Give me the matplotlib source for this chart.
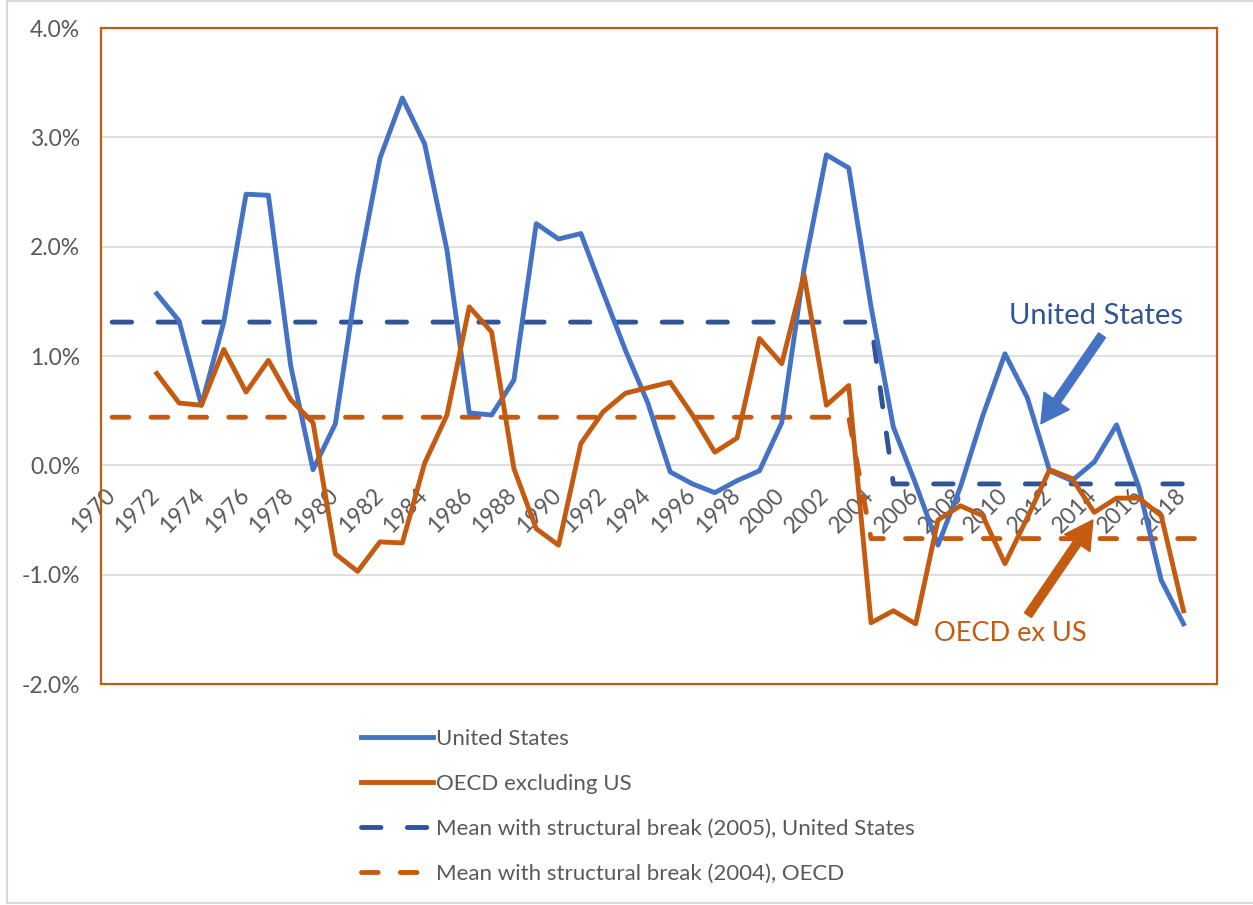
import numpy as np
import matplotlib
matplotlib.use("Agg")
import matplotlib.pyplot as plt
from matplotlib.lines import Line2D

plt.rcParams['font.family'] = ['Lato', 'DejaVu Sans']
plt.rcParams['lines.scale_dashes'] = False

# data (percent)
years = list(range(1972, 2019))
us = [1.57, 1.32, 0.55, 1.31, 2.48, 2.47, 0.91, -0.04, 0.38, 1.74,
      2.81, 3.36, 2.94, 1.97, 0.48, 0.46, 0.78, 2.21, 2.07, 2.12,
      1.58, 1.05, 0.57, -0.06, -0.17, -0.25, -0.14, -0.05, 0.39, 1.8,
      2.84, 2.72, 1.45, 0.35, -0.17, -0.73, -0.2, 0.45, 1.02, 0.62,
      -0.05, -0.14, 0.03, 0.37, -0.2, -1.05, -1.45]
oecd = [0.84, 0.57, 0.55, 1.06, 0.67, 0.96, 0.60, 0.39, -0.81, -0.97,
        -0.70, -0.71, 0.02, 0.46, 1.45, 1.22, -0.03, -0.58, -0.73, 0.20,
        0.49, 0.66, 0.71, 0.76, 0.46, 0.12, 0.25, 1.16, 0.93, 1.74,
        0.55, 0.73, -1.44, -1.33, -1.45, -0.50, -0.37, -0.46, -0.90, -0.48,
        -0.04, -0.12, -0.43, -0.30, -0.30, -0.46, -1.33]

mean_years = list(range(1970, 2020))
us_mean = [1.31 if y <= 2004 else -0.17 for y in mean_years]
oecd_mean = [0.44 if y <= 2003 else -0.67 for y in mean_years]

tick_years = list(range(1970, 2019, 2))
yticks = [-2, -1, 0, 1, 2, 3, 4]

blue = '#4472C4'
orange = '#C55A11'
dblue = '#2F5597'
grey = '#595959'

fig = plt.figure(figsize=(12.53, 9.05), dpi=100)
ax = fig.add_axes([101/1253, 1-684/905, 1116/1253, 656/905])

lw = 3.5
l1, = ax.plot(years, us, color=blue, lw=lw, solid_joinstyle='round', zorder=4,
              label='United States')
l2, = ax.plot(years, oecd, color=orange, lw=lw, solid_joinstyle='round', zorder=4,
              label='OECD excluding US')
l3, = ax.plot(mean_years, us_mean, color=dblue, lw=lw, dashes=(14, 19),
              dash_capstyle='round', zorder=3,
              label='Mean with structural break (2005), United States')
l4, = ax.plot(mean_years, oecd_mean, color=orange, lw=lw, dashes=(12, 16),
              dash_capstyle='round', zorder=3,
              label='Mean with structural break (2004), OECD')

ax.set_xlim(1969.5, 2019.5)
ax.set_ylim(-2, 4)
ax.set_yticks(yticks)
ax.set_yticklabels(['%.1f%%' % v for v in yticks], color=grey, fontsize=16.5)
ax.tick_params(axis='y', length=0, pad=15)
ax.set_xticks([])
ax.grid(axis='y', color='#D9D9D9', lw=1.2)
ax.set_axisbelow(True)
for s in ax.spines.values():
    s.set_color(orange)
    s.set_linewidth(1.6)

# category labels sit at the zero line
for yr in tick_years:
    ax.annotate(str(yr), (yr, 0), xytext=(5, -14), textcoords='offset points',
                rotation=45, ha='right', va='top', color=grey, fontsize=16.5,
                zorder=2)

# call-outs
ax.annotate('', xy=(2011.61, 0.38), xytext=(2014.35, 1.19),
            arrowprops=dict(width=6, headwidth=22, headlength=20, color=blue,
                            shrink=0), zorder=5)
ax.text(2014.08, 1.37, 'United States', color=dblue, fontsize=21,
        ha='center', va='center')
ax.annotate('', xy=(2013.94, -0.50), xytext=(2011.03, -1.37),
            arrowprops=dict(width=6, headwidth=22, headlength=20, color=orange,
                            shrink=0), zorder=5)
ax.text(2010.23, -1.54, 'OECD ex US', color=orange, fontsize=19.5,
        ha='center', va='center')

fig.legend(handles=[l1, l2, l3, l4], loc='upper left',
           bbox_to_anchor=(350/1253, 1-718/905), frameon=False, fontsize=16,
           handlelength=3.25, handletextpad=0.12, labelspacing=1.12,
           borderpad=0, labelcolor=grey)

# outer chart border
fig.add_artist(Line2D([7/1253, 7/1253], [2/905, 1], color='#D9D9D9', lw=1.5,
                      transform=fig.transFigure))
fig.add_artist(Line2D([7/1253, 1], [2/905, 2/905], color='#D9D9D9', lw=1.5,
                      transform=fig.transFigure))
fig.add_artist(Line2D([7/1253, 1], [1-1/905, 1-1/905], color='#D9D9D9', lw=1.5,
                      transform=fig.transFigure))

fig.savefig('out.png', dpi=100)
